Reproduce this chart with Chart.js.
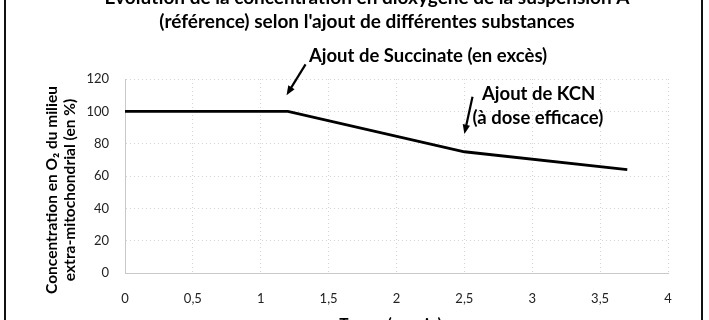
<!DOCTYPE html>
<html>
<head>
<meta charset="utf-8">
<script src="https://cdn.jsdelivr.net/npm/chart.js@4"></script>
<style>
  html, body { margin: 0; padding: 0; background: #fff; }
  #wrap { width: 709px; height: 320px; }
</style>
</head>
<body>
<div id="wrap"><canvas id="graphique" width="709" height="320"></canvas></div>
<script>
// Données
const temps = [0, 1.2, 2.5, 3.7];
const concentration = [100, 100, 75, 64];
const ticksX = [0, 0.5, 1, 1.5, 2, 2.5, 3, 3.5, 4];
const ticksY = [0, 20, 40, 60, 80, 100, 120];

const titre = [
  "Évolution de la concentration en dioxygène de la suspension A",
  "(référence) selon l'ajout de différentes substances"
];
const titreY = ["Concentration en O₂ du milieu", "extra-mitochondrial (en %)"];
const titreX = "Temps (en min)";

// Annotations (texte + flèche), ancrées en coordonnées du graphique
const annotTextes = ["Ajout de Succinate (en excès)", "Ajout de KCN", "(à dose efficace)"];
const annotPos = [[1.355, 134.5], [2.63, 111], [2.56, 96]];
const flechesDebut = [[1.33, 129], [2.56, 109]];
const flechesFin = [[1.19, 110], [2.5, 86]];

const police = "Lato, 'Open Sans', sans-serif";

// Plugin pour le cadre, les titres et les annotations
const decor = {
  id: "decor",
  afterDraw(chart) {
    const ctx = chart.ctx;
    const sx = chart.scales.x, sy = chart.scales.y;
    const area = chart.chartArea;
    ctx.save();

    // cadre (bords gauche et droit)
    ctx.strokeStyle = "#111";
    ctx.lineWidth = 2;
    ctx.beginPath();
    ctx.moveTo(5, 0); ctx.lineTo(5, 320);
    ctx.moveTo(702, 0); ctx.lineTo(702, 320);
    ctx.stroke();

    // titre (première ligne coupée en haut)
    ctx.fillStyle = "#000";
    ctx.textAlign = "center";
    ctx.textBaseline = "middle";
    ctx.font = "bold 19px " + police;
    ctx.fillText(titre[0], 367, -2);
    ctx.fillText(titre[1], 367, 22);

    // titre de l'axe X (coupé en bas)
    ctx.font = "bold 15.5px " + police;
    ctx.fillText(titreX, (area.left + area.right) / 2 - 6, 324);

    // titre de l'axe Y
    ctx.save();
    ctx.translate(52, 190);
    ctx.rotate(-Math.PI / 2);
    ctx.fillText(titreY[0], 0, 0);
    ctx.fillText(titreY[1], 0, 18);
    ctx.restore();

    // annotations
    ctx.textAlign = "left";
    ctx.font = "bold 18.5px " + police;
    annotTextes.forEach((t, i) => {
      ctx.fillText(t, sx.getPixelForValue(annotPos[i][0]), sy.getPixelForValue(annotPos[i][1]));
    });

    // flèches
    ctx.strokeStyle = "#000";
    ctx.fillStyle = "#000";
    ctx.lineWidth = 2.2;
    flechesDebut.forEach((d, i) => {
      const x1 = sx.getPixelForValue(d[0]), y1 = sy.getPixelForValue(d[1]);
      const x2 = sx.getPixelForValue(flechesFin[i][0]), y2 = sy.getPixelForValue(flechesFin[i][1]);
      const ang = Math.atan2(y2 - y1, x2 - x1);
      const L = 10;
      ctx.beginPath();
      ctx.moveTo(x1, y1);
      ctx.lineTo(x2 - Math.cos(ang) * 5, y2 - Math.sin(ang) * 5);
      ctx.stroke();
      ctx.beginPath();
      ctx.moveTo(x2, y2);
      ctx.lineTo(x2 - L * Math.cos(ang - 0.38), y2 - L * Math.sin(ang - 0.38));
      ctx.lineTo(x2 - L * Math.cos(ang + 0.38), y2 - L * Math.sin(ang + 0.38));
      ctx.closePath();
      ctx.fill();
    });

    ctx.restore();
  }
};

const grille = {
  color: "#d4d4d4",
  lineWidth: 1,
  drawTicks: false,
  borderDash: [1, 3]
};

new Chart(document.getElementById("graphique"), {
  type: "scatter",
  data: {
    datasets: [{
      data: temps.map((t, i) => ({ x: t, y: concentration[i] })),
      showLine: true,
      borderColor: "#000",
      borderWidth: 2.8,
      pointRadius: 0,
      tension: 0
    }]
  },
  options: {
    responsive: false,
    animation: false,
    layout: { padding: { left: 85, right: 41, top: 79, bottom: 0 } },
    plugins: {
      legend: { display: false },
      tooltip: { enabled: false }
    },
    scales: {
      x: {
        type: "linear",
        min: 0,
        max: 4,
        afterBuildTicks(scale) { scale.ticks = ticksX.map(v => ({ value: v })); },
        afterFit(scale) { scale.height = 47; },
        ticks: {
          padding: 18,
          color: "#222",
          font: { family: police, size: 13 },
          maxRotation: 0,
          callback: v => String(v).replace(".", ",")
        },
        grid: Object.assign({}, grille, { tickBorderDash: [1, 3] }),
        border: { color: "#c8c8c8", dash: [1, 3] }
      },
      y: {
        min: 0,
        max: 120,
        afterBuildTicks(scale) { scale.ticks = ticksY.map(v => ({ value: v })); },
        afterFit(scale) { scale.width = 40; },
        ticks: {
          padding: 16,
          color: "#222",
          font: { family: police, size: 13 }
        },
        grid: grille,
        border: { color: "#c8c8c8", dash: [1, 3] }
      }
    }
  },
  plugins: [decor]
});
</script>
</body>
</html>
